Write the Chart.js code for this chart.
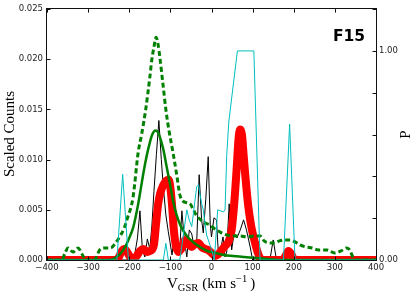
<!DOCTYPE html>
<html>
<head>
<meta charset="utf-8">
<script src="https://cdn.jsdelivr.net/npm/chart.js@4.4.0/dist/chart.umd.min.js"></script>
<style>
    html, body { margin: 0; padding: 0; background: #fff; }
</style>
</head>
<body>
<canvas id="myChart" width="415" height="293"></canvas>
<script>
// ----------------------- DATA ----------------------- //
var xTicks = [-400, -300, -200, -100, 0, 100, 200, 300, 400];
var yTicks = [0, 0.005, 0.010, 0.015, 0.020, 0.025];
var pLabels = ['0.00', '1.00'];

// black: raw scaled counts
var blackV = [-400, -205, -196, -188, -180, -174, -168, -162, -156, -150, -145, -140, -134, -128, -122, -117,
    -111, -105, -101, -96, -90, -85, -78, -72, -66, -60, -54, -48, -42, -36, -30, -24, -20, -14, -8, -3,
    0, 6, 12, 17, 22, 28, 33, 37, 43, 49, 55, 62, 70, 78, 85, 94, 100, 142, 150, 158, 400];
var blackN = [0, 0, 0.0008, 0.0002, 0.0022, 0.0049, 0.0010, 0.0003, 0.0021, 0.0011, 0.0034, 0.0068, 0.0105, 0.0139, 0.0100, 0.0072,
    0.0045, 0.0028, 0.0018, 0.0005, 0.0025, 0.0012, 0.0005, 0.0049, 0.0020, 0.0003, 0.0030, 0.0026, 0.0012, 0.0017, 0.0085, 0.0040, 0.0027, 0.0060, 0.0103, 0.0035,
    0.0023, 0.0042, 0.0040, 0.0005, 0.0010, 0.0023, 0.0003, 0.0008, 0.0056, 0.0010, 0.0027, 0.0022, 0.0030, 0.0040, 0.0030, 0.0013, 0, 0, 0.0020, 0, 0];

// red: smoothed counts
var redV = [-400, -232, -225, -218, -212, -205, -198, -190, -182, -174, -165, -157, -150, -145, -140, -135, -130, -125,
    -118, -110, -104, -100, -96, -92, -87, -80, -72, -64, -56, -48, -40, -32, -24, -16, -8, 0, 9, 17, 25, 33, 41,
    49, 55, 61, 66, 70, 74, 78, 82, 89, 96, 104, 112, 120, 128, 172, 180, 187, 194, 200, 206, 400];
var redN = [0, 0, 0.0003, 0.0009, 0.0011, 0.0008, 0.0003, 0.0001, 0.0004, 0.0009, 0.0011, 0.0008, 0.0009, 0.0010, 0.0015, 0.0035, 0.0055, 0.0066,
    0.0074, 0.0079, 0.0080, 0.0072, 0.0055, 0.0032, 0.0015, 0.0008, 0.0012, 0.0020, 0.0016, 0.0013, 0.0016, 0.0017, 0.0013, 0.0011, 0.0010, 0.0007, 0.0004, 0.0006, 0.0010, 0.0014, 0.0018,
    0.0030, 0.0055, 0.0090, 0.0122, 0.0130, 0.0125, 0.0105, 0.0085, 0.0055, 0.0035, 0.0020, 0.0008, 0.0001, 0, 0, 0.0004, 0.0009, 0.0006, 0.0001, 0, 0];

// green solid: fit
var fitV = [-400, -250, -235, -222, -210, -200, -190, -180, -174, -165, -158, -150, -145, -140, -135, -130, -125, -117,
    -110, -101, -93, -85, -75, -60, -45, -28, -10, 10, 30, 52, 80, 110, 134, 150, 170, 400];
var fitN = [0, 0, 0.0002, 0.0006, 0.0013, 0.0022, 0.0033, 0.0052, 0.0066, 0.0088, 0.0103, 0.0117, 0.0124, 0.0128, 0.0129, 0.0127, 0.0122, 0.0110,
    0.0095, 0.0076, 0.0058, 0.0045, 0.0034, 0.0024, 0.0018, 0.0013, 0.0009, 0.0007, 0.0005, 0.0004, 0.0003, 0.0002, 0.0001, 0.00005, 0, 0];

// green dashed: model
var modelV = [-400, -365, -355, -349, -337, -324, -315, -305, -285, -272, -262, -245, -235, -225, -212, -205, -191, -178, -170,
    -160, -150, -145, -140, -135, -130, -125, -118, -111, -103, -94, -85, -77, -70, -60, -52, -44, -36, -26, -16, -4,
    8, 20, 37, 52, 70, 86, 104, 118, 128, 140, 154, 165, 178, 191, 203, 215, 230, 245, 260, 280, 300, 315, 329, 336, 345, 350, 400];
var modelN = [0, 0, 0.0008, 0.0012, 0.0008, 0.0012, 0.0006, 0, 0, 0.0010, 0.0012, 0.0012, 0.0016, 0.0022, 0.0032, 0.0041, 0.0062, 0.0108, 0.0125,
    0.0150, 0.0182, 0.0200, 0.0212, 0.0222, 0.0215, 0.0200, 0.0175, 0.0150, 0.0128, 0.0108, 0.0086, 0.0065, 0.0059, 0.0057, 0.0056, 0.0050, 0.0044, 0.0040, 0.0037, 0.0035,
    0.0031, 0.0028, 0.0025, 0.0024, 0.0024, 0.0023, 0.0024, 0.0024, 0.0019, 0.0017, 0.0017, 0.0019, 0.0020, 0.0020, 0.0018, 0.0015, 0.0013, 0.0012, 0.0010, 0.0010, 0.0007, 0.0009, 0.0012, 0.0010, 0.0002, 0, 0];

// cyan: probability P (right axis)
var probV = [-400, -230, -216, -202, -117, -111, -105, -77, -60, -54, -48, -36, -32, -24, -20, -12, 0, 7,
    15, 29, 33, 37, 42, 63, 103, 118, 175, 190, 203, 400];
var probP = [0, 0, 0.41, 0, 0, 0.08, 0, 0, 0.24, 0.19, 0.16, 0.35, 0.36, 0.27, 0.24, 0.12, 0.05, 0,
    0.24, 0.23, 0.24, 0.50, 0.66, 1.0, 1.0, 0, 0, 0.65, 0, 0];

// ----------------------- CHART -------------------- //
function pts(xs, ys) {
    return xs.map((x, i) => ({ x: x, y: ys[i] }));
}

var tickFont = { family: 'DejaVu Sans', size: 8.5 };
var tickColor = '#222';

// matplotlib style frame, inward ticks and the serif labels
var frame = {
    id: 'frame',
    afterDraw: (chart) => {
        var c = chart.ctx, a = chart.chartArea;
        var sx = chart.scales.x, sy = chart.scales.y, sp = chart.scales.p;
        c.save();
        c.strokeStyle = '#111';
        c.lineWidth = 1;
        c.strokeRect(Math.round(a.left) - 0.5, Math.round(a.top) - 0.5, Math.round(a.right - a.left) + 1, Math.round(a.bottom - a.top) + 1);
        c.beginPath();
        xTicks.forEach((v) => {
            var px = Math.round(sx.getPixelForValue(v)) + 0.5;
            c.moveTo(px, a.bottom); c.lineTo(px, a.bottom - 3.5);
            c.moveTo(px, a.top); c.lineTo(px, a.top + 3.5);
        });
        yTicks.forEach((v) => {
            var py = Math.round(sy.getPixelForValue(v)) + 0.5;
            c.moveTo(a.left, py); c.lineTo(a.left + 3.5, py);
        });
        sp.ticks.forEach((t) => {
            var py = Math.round(sp.getPixelForValue(t.value)) + 0.5;
            c.moveTo(a.right, py); c.lineTo(a.right - 3.5, py);
        });
        c.stroke();

        // F15 tag
        c.fillStyle = '#000';
        c.font = 'bold 15.5px "DejaVu Sans"';
        c.textAlign = 'left';
        c.textBaseline = 'alphabetic';
        c.fillText('F15', 333, 41);

        // x label: V_GSR (km s^-1)
        var base = 288;
        var x = 167;
        c.font = '15px "Liberation Serif"';
        c.fillText('V', x, base); x += c.measureText('V').width;
        c.font = '10.5px "Liberation Serif"';
        c.fillText('GSR', x, base + 3); x += c.measureText('GSR').width + 4;
        c.font = '15px "Liberation Serif"';
        c.fillText('(km s', x, base); x += c.measureText('(km s').width;
        c.font = '10.5px "Liberation Serif"';
        c.fillText('\u22121', x, base - 6); x += c.measureText('\u22121').width + 3;
        c.font = '15px "Liberation Serif"';
        c.fillText(')', x, base);

        // y labels
        c.font = '15px "Liberation Serif"';
        c.textAlign = 'center';
        c.textBaseline = 'middle';
        c.save();
        c.translate(10, 134);
        c.rotate(-Math.PI / 2);
        c.fillText('Scaled Counts', 0, 0);
        c.restore();
        c.save();
        c.translate(406, 134.5);
        c.rotate(-Math.PI / 2);
        c.fillText('P', 0, 0);
        c.restore();
        c.restore();
    }
};

var ctx = document.getElementById('myChart').getContext('2d');
var chart = new Chart(ctx, {
    type: 'line',
    data: {
        datasets: [
            { data: pts(probV, probP), yAxisID: 'p', borderColor: '#00bfbf', borderWidth: 1 },
            { data: pts(modelV, modelN), yAxisID: 'y', borderColor: '#008000', borderWidth: 3, borderDash: [5, 3], cubicInterpolationMode: 'monotone' },
            { data: pts(fitV, fitN), yAxisID: 'y', borderColor: '#008000', borderWidth: 2.5, cubicInterpolationMode: 'monotone' },
            { data: pts(redV, redN), yAxisID: 'y', borderColor: '#ff0000', borderWidth: 8, borderJoinStyle: 'round', borderCapStyle: 'round', cubicInterpolationMode: 'monotone' },
            { data: pts(blackV, blackN), yAxisID: 'y', borderColor: '#000', borderWidth: 1 }
        ].map((d) => Object.assign({ pointRadius: 0, tension: 0, fill: false, clip: 0 }, d))
    },
    options: {
        responsive: false,
        animation: false,
        devicePixelRatio: 1,
        layout: { padding: { top: 6, left: 0, right: 0, bottom: 0 } },
        plugins: { legend: { display: false }, tooltip: { enabled: false } },
        scales: {
            x: {
                type: 'linear', min: -400, max: 400,
                afterFit: (s) => { s.height = 33; },
                grid: { display: false, drawTicks: false },
                border: { display: false },
                ticks: {
                    stepSize: 100, padding: 3, autoSkip: false, maxRotation: 0,
                    font: tickFont, color: tickColor,
                    callback: (v) => String(v).replace('-', '\u2212')
                }
            },
            y: {
                position: 'left', min: 0, max: 0.025,
                afterFit: (s) => { s.width = 47; },
                grid: { display: false, drawTicks: false },
                border: { display: false },
                ticks: {
                    stepSize: 0.005, padding: 4, autoSkip: false,
                    font: tickFont, color: tickColor,
                    callback: (v) => v.toFixed(3)
                }
            },
            p: {
                position: 'right', min: 0, max: 1.2,
                afterFit: (s) => { s.width = 39; },
                grid: { display: false, drawTicks: false },
                border: { display: false },
                ticks: {
                    stepSize: 0.2, padding: 3, autoSkip: false,
                    font: tickFont, color: tickColor,
                    callback: (v) => {
                        if (Math.abs(v) < 1e-6) return pLabels[0];
                        if (Math.abs(v - 1) < 1e-6) return pLabels[1];
                        return '';
                    }
                }
            }
        }
    },
    plugins: [frame]
});
</script>
</body>
</html>
